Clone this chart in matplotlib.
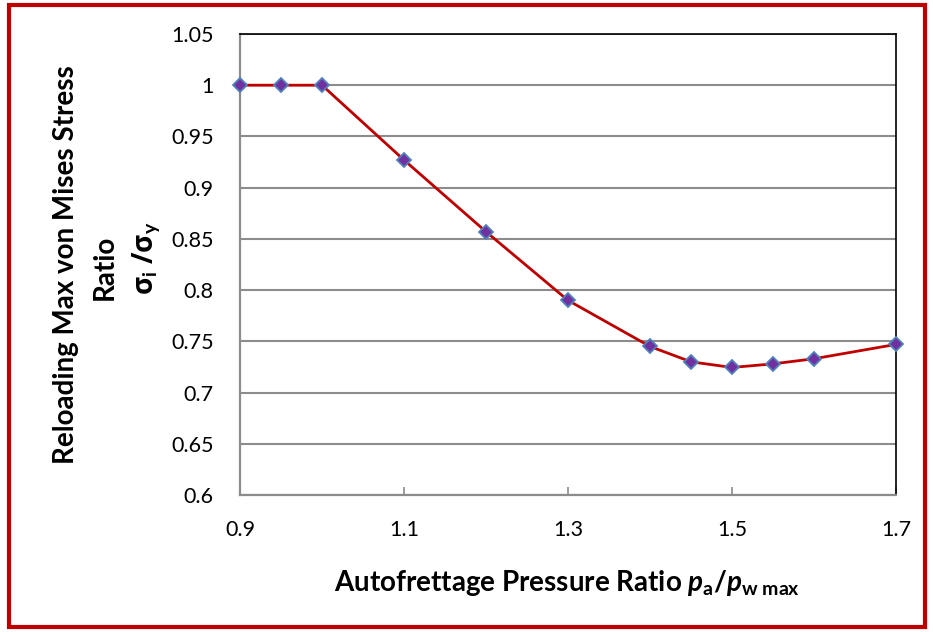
import matplotlib
matplotlib.use("Agg")
import matplotlib.pyplot as plt
from matplotlib.patches import Rectangle

plt.rcParams['font.family'] = ['Lato', 'DejaVu Sans']
plt.rcParams['mathtext.fontset'] = 'custom'
plt.rcParams['mathtext.rm'] = 'Lato:bold'
plt.rcParams['mathtext.it'] = 'Lato:bold:italic'
plt.rcParams['mathtext.bf'] = 'Lato:bold'
plt.rcParams['mathtext.fallback'] = 'stixsans'

pressure_ratio = [0.9, 0.95, 1.0, 1.1, 1.2, 1.3, 1.4, 1.45, 1.5, 1.55, 1.6, 1.7]
stress_ratio = [1.0, 1.0, 1.0, 0.927, 0.857, 0.790, 0.745, 0.730, 0.7245, 0.728, 0.733, 0.747]
x_ticks = [0.9, 1.1, 1.3, 1.5, 1.7]
x_tick_labels = ["0.9", "1.1", "1.3", "1.5", "1.7"]
y_ticks = [0.6, 0.65, 0.7, 0.75, 0.8, 0.85, 0.9, 0.95, 1.0, 1.05]
y_tick_labels = ["0.6", "0.65", "0.7", "0.75", "0.8", "0.85", "0.9", "0.95", "1", "1.05"]

fig = plt.figure(figsize=(9.33, 6.32), dpi=100)
ax = fig.add_axes([240/933, 1-495/632, 656/933, 461/632])

ax.plot(pressure_ratio, stress_ratio, color='#C00000', lw=2.0, zorder=3,
        marker='D', markersize=7, markerfacecolor='#7030A0',
        markeredgecolor='#4F81BD', markeredgewidth=1.3, clip_on=False)

ax.set_xlim(0.9, 1.7)
ax.set_ylim(0.6, 1.05)
ax.set_xticks(x_ticks)
ax.set_xticklabels(x_tick_labels)
ax.set_yticks(y_ticks)
ax.set_yticklabels(y_tick_labels)
ax.yaxis.grid(True, color='#8C8C8C', lw=1.5)
ax.set_axisbelow(True)
ax.tick_params(axis='x', direction='in', length=6, width=1.2, color='#8C8C8C',
               labelsize=15.5, pad=18)
ax.tick_params(axis='y', length=0, labelsize=15.5, pad=19)
for s in ['left', 'bottom']:
    ax.spines[s].set_color('#8C8C8C')
    ax.spines[s].set_linewidth(1.6)
for s in ['top', 'right']:
    ax.spines[s].set_color('black')
    ax.spines[s].set_linewidth(1.2)

fig.text(567/933, 1-583/632, r"Autofrettage Pressure Ratio $p_\mathrm{a}/p_\mathrm{w\ max}$",
         ha='center', va='center', fontsize=20, fontweight='bold')

common = dict(rotation=90, rotation_mode='anchor', ha='center', va='baseline',
              fontsize=20, fontweight='bold')
fig.text(74/933, 1-265/632, "Reloading Max von Mises Stress", **common)
fig.text(113/933, 1-267/632, "Ratio", **common)
fig.text(152/933, 1-258/632, "σ$_\\mathrm{i}$ /σ$_\\mathrm{y}$",
         family=['Open Sans', 'DejaVu Sans'], **common)

fig.patches.append(Rectangle((9/933, 5/632), 916/933, 622/632, transform=fig.transFigure,
                             fill=False, edgecolor='#C00000', lw=3))

fig.savefig("out.png", dpi=100)
